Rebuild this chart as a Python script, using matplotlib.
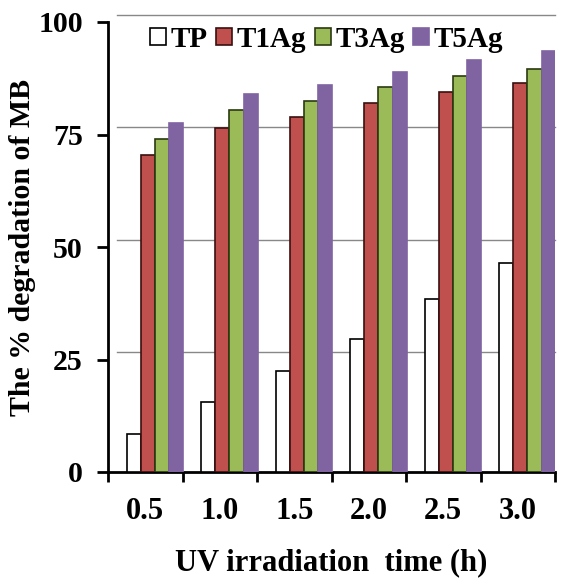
import matplotlib
matplotlib.use("Agg")
import matplotlib.pyplot as plt
import numpy as np
from matplotlib.patches import Patch

categories = ["0.5", "1.0", "1.5", "2.0", "2.5", "3.0"]
series_names = ["TP", "T1Ag", "T3Ag", "T5Ag"]
TP = [8.5, 15.5, 22.5, 29.5, 38.5, 46.5]
T1Ag = [70.5, 76.5, 79.0, 82.0, 84.5, 86.5]
T3Ag = [74.0, 80.5, 82.5, 85.5, 88.0, 89.5]
T5Ag = [77.5, 84.0, 86.0, 89.0, 91.5, 93.5]
y_ticks = [0, 25, 50, 75, 100]

values = [TP, T1Ag, T3Ag, T5Ag]
colors = ["#FFFFFF", "#C0504D", "#9BBB59", "#8064A2"]
edges = ["#000000", "#3a1010", "#2a3a10", "#8064A2"]

plt.rcParams['font.family'] = ['Liberation Serif', 'DejaVu Serif']
plt.rcParams['font.weight'] = 'bold'

fig = plt.figure(figsize=(5.61, 5.84), dpi=100)
ax = fig.add_axes([108/561, 1-472/584, (555-108)/561, (472-22)/584])

x = np.arange(len(categories))
w = 0.19
offsets = np.array([-1.5, -0.5, 0.5, 1.5]) * w + 0.13
for i, (vals, c, e) in enumerate(zip(values, colors, edges)):
    ax.bar(x + offsets[i], vals, width=w, color=c, edgecolor=e, linewidth=1.2, zorder=3)

ax.set_xlim(-0.5, len(categories) - 0.5)
ax.set_ylim(0, 100)
ax.set_yticks(y_ticks)
ax.set_yticklabels([str(t) for t in y_ticks], fontsize=21.5, fontweight='bold')
ax.set_xticks(x)
ax.set_xticklabels(categories, fontsize=22, fontweight='bold')
ax.set_xticks(np.arange(-0.5, len(categories)), minor=True)
ax.tick_params(axis='x', which='major', length=0, pad=18)
ax.tick_params(axis='x', which='minor', length=7, width=2, direction='out')
ax.tick_params(axis='y', which='major', length=8, width=2, direction='out', pad=10)

for t in y_ticks[1:]:
    ax.axhline(t + 1.6, xmin=0.02, color='#888888', linewidth=1.0, zorder=1, clip_on=False)

ax.spines['left'].set_linewidth(2)
ax.spines['bottom'].set_linewidth(2)
ax.spines['right'].set_visible(False)
ax.spines['top'].set_visible(False)

ax.set_ylabel("The % degradation of MB", fontsize=21.5, fontweight='bold', labelpad=2)
ax.set_xlabel("UV irradiation  time (h)", fontsize=22, fontweight='bold', labelpad=16)

handles = [Patch(facecolor=c, edgecolor=e, linewidth=1.2) for c, e in zip(colors, edges)]
ax.legend(handles, series_names, loc='upper left', bbox_to_anchor=(0.035, 1.05), ncol=4,
          frameon=False, prop={'weight': 'bold', 'size': 21},
          handlelength=0.55, handleheight=0.55, handletextpad=0.15, columnspacing=0.3)

fig.savefig("out.png", dpi=100)
